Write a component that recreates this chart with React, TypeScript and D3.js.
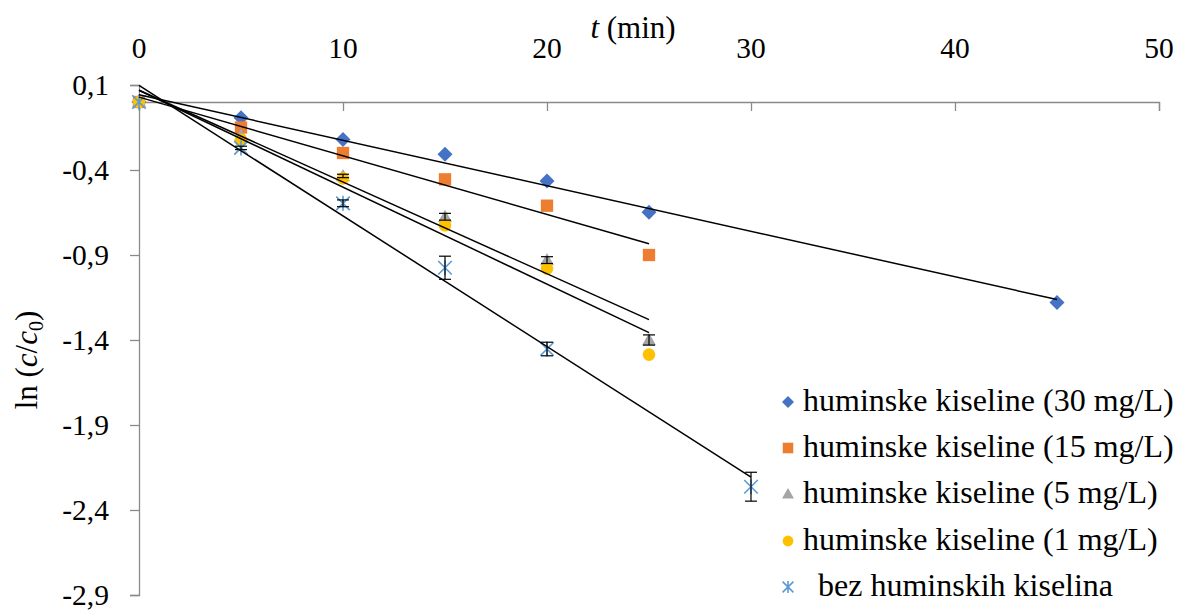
import React, { useEffect, useRef } from "react";
import * as d3 from "d3";

const xTicks = [0, 10, 20, 30, 40, 50];
const yTicks = [0.1, -0.4, -0.9, -1.4, -1.9, -2.4, -2.9];

const time30 = [0, 5, 10, 15, 20, 25, 45];
const val30 = [0, -0.092, -0.22, -0.308, -0.465, -0.649, -1.18];
const err30 = [0, 0, 0, 0, 0, 0, 0];

const time15 = [0, 5, 10, 15, 20, 25];
const val15 = [0, -0.15, -0.3, -0.455, -0.61, -0.9];
const err15 = [0, 0, 0, 0, 0, 0];

const time5 = [0, 5, 10, 15, 20, 25];
const val5 = [0, -0.195, -0.435, -0.675, -0.93, -1.4];
const err5 = [0, 0, 0.01, 0.02, 0.02, 0.03];

const time1 = [0, 5, 10, 15, 20, 25];
const val1 = [0, -0.222, -0.449, -0.725, -0.98, -1.486];
const err1 = [0, 0, 0, 0, 0, 0];

const timeBez = [0, 5, 10, 15, 20, 30];
const valBez = [0, -0.27, -0.596, -0.975, -1.453, -2.263];
const errBez = [0, 0.01, 0.02, 0.068, 0.04, 0.085];

const seriesNames = [
  "huminske kiseline (30 mg/L)",
  "huminske kiseline (15 mg/L)",
  "huminske kiseline (5 mg/L)",
  "huminske kiseline (1 mg/L)",
  "bez huminskih kiselina",
];
const seriesColors = ["#4472C4", "#ED7D31", "#A5A5A5", "#FFC000", "#5B9BD5"];
const seriesShapes = ["diamond", "square", "triangle", "circle", "star"];

const FONT = "Liberation Serif";

function regression(xs: number[], ys: number[]) {
  const mx = d3.mean(xs) as number;
  const my = d3.mean(ys) as number;
  let num = 0, den = 0;
  xs.forEach((x, i) => {
    num += (x - mx) * (ys[i] - my);
    den += (x - mx) * (x - mx);
  });
  const slope = num / den;
  return { slope, intercept: my - slope * mx };
}

function drawMarker(g: any, shape: string, cx: number, cy: number, size: number, color: string) {
  const h = size / 2;
  if (shape === "diamond") {
    g.append("path")
      .attr("d", `M${cx},${cy - h}L${cx + h},${cy}L${cx},${cy + h}L${cx - h},${cy}Z`)
      .attr("fill", color);
  } else if (shape === "square") {
    const s = size * 0.88;
    g.append("rect").attr("x", cx - s / 2).attr("y", cy - s / 2).attr("width", s).attr("height", s).attr("fill", color);
  } else if (shape === "triangle") {
    g.append("path")
      .attr("d", `M${cx},${cy - h}L${cx + h},${cy + h * 0.75}L${cx - h},${cy + h * 0.75}Z`)
      .attr("fill", color);
  } else if (shape === "circle") {
    g.append("circle").attr("cx", cx).attr("cy", cy).attr("r", h * 0.9).attr("fill", color);
  } else {
    const d = h * 0.9;
    g.append("path")
      .attr("d", `M${cx - d},${cy - d}L${cx + d},${cy + d}M${cx - d},${cy + d}L${cx + d},${cy - d}M${cx},${cy - h}L${cx},${cy + h}`)
      .attr("stroke", color)
      .attr("stroke-width", 1.6)
      .attr("fill", "none");
  }
}

export default function App() {
  const ref = useRef<SVGSVGElement>(null);

  useEffect(() => {
    document.body.style.margin = "0";
    const svg = d3.select(ref.current);
    svg.selectAll("*").remove();

    const x = d3.scaleLinear().domain([0, 50]).range([139, 1159]);
    const y = d3.scaleLinear().domain([-2.9, 0.1]).range([595, 85]);
    const axisColor = "#8a8a8a";

    // y axis
    const yAxis = svg.append("g").attr("transform", `translate(${x(0)},0)`)
      .call(d3.axisLeft(y).tickValues(yTicks).tickSize(9).tickPadding(21)
        .tickFormat((d: any) => d3.format(".1f")(d).replace(".", ",").replace("−", "-")));
    yAxis.select(".domain").attr("stroke", axisColor).attr("stroke-width", 1.3);
    yAxis.selectAll(".tick line").attr("stroke", axisColor).attr("stroke-width", 1.3);
    yAxis.selectAll(".tick text").style("font-family", FONT).style("font-size", "29.5px").attr("fill", "#000");

    // x axis (at y = 0), ticks pointing down, labels on top
    const xAxis = svg.append("g").attr("transform", `translate(0,${y(0)})`)
      .call(d3.axisBottom(x).tickValues(xTicks).tickSize(9).tickSizeOuter(9).tickFormat(() => ""));
    xAxis.select(".domain").attr("stroke", axisColor).attr("stroke-width", 1.3);
    xAxis.selectAll(".tick line").attr("stroke", axisColor).attr("stroke-width", 1.3);
    svg.append("g").selectAll("text").data(xTicks).join("text")
      .attr("x", (d) => x(d)).attr("y", 58).attr("text-anchor", "middle")
      .style("font-family", FONT).style("font-size", "29.5px").attr("fill", "#000").text((d) => String(d));

    // axis titles
    const xt = svg.append("text").attr("x", 633).attr("y", 38).attr("text-anchor", "middle")
      .style("font-family", FONT).style("font-size", "31px").attr("fill", "#000");
    xt.append("tspan").style("font-style", "italic").text("t");
    xt.append("tspan").text(" (min)");

    const yt = svg.append("text").attr("transform", "translate(37,360) rotate(-90)").attr("text-anchor", "middle")
      .style("font-family", FONT).style("font-size", "31px").attr("fill", "#000");
    yt.append("tspan").text("ln (");
    yt.append("tspan").style("font-style", "italic").text("c");
    yt.append("tspan").text("/");
    yt.append("tspan").style("font-style", "italic").text("c");
    yt.append("tspan").style("font-size", "20px").attr("dy", 6).text("0");
    yt.append("tspan").attr("dy", -6).text(")");

    const all = [
      { t: time30, v: val30, e: err30 },
      { t: time15, v: val15, e: err15 },
      { t: time5, v: val5, e: err5 },
      { t: time1, v: val1, e: err1 },
      { t: timeBez, v: valBez, e: errBez },
    ];

    // markers
    const mg = svg.append("g");
    all.forEach((s, i) => {
      const size = [15, 14, 14, 14, 15][i];
      s.t.forEach((t, j) => drawMarker(mg, seriesShapes[i], x(t), y(s.v[j]), size, seriesColors[i]));
    });

    // error bars
    const eg = svg.append("g").attr("stroke", "#000").attr("stroke-width", 1.2);
    all.forEach((s) => {
      s.t.forEach((t, j) => {
        const e = s.e[j];
        if (!e) return;
        const cx = x(t), y1 = y(s.v[j] + e), y2 = y(s.v[j] - e);
        eg.append("line").attr("x1", cx).attr("x2", cx).attr("y1", y1).attr("y2", y2);
        eg.append("line").attr("x1", cx - 6).attr("x2", cx + 6).attr("y1", y1).attr("y2", y1);
        eg.append("line").attr("x1", cx - 6).attr("x2", cx + 6).attr("y1", y2).attr("y2", y2);
      });
    });

    // trend lines
    const tg = svg.append("g");
    all.forEach((s) => {
      const r = regression(s.t, s.v);
      const t0 = 0, t1 = d3.max(s.t) as number;
      tg.append("line")
        .attr("x1", x(t0)).attr("y1", y(r.intercept + r.slope * t0))
        .attr("x2", x(t1)).attr("y2", y(r.intercept + r.slope * t1))
        .attr("stroke", "#000").attr("stroke-width", 1.5);
    });

    // legend
    const lg = svg.append("g");
    const rowY = [402, 448, 494, 541, 587];
    seriesNames.forEach((name, i) => {
      drawMarker(lg, seriesShapes[i], 788, rowY[i], 12, seriesColors[i]);
      lg.append("text").attr("x", i === 4 ? 818 : 803).attr("y", rowY[i] + 9)
        .style("font-family", FONT).style("font-size", "32px").attr("fill", "#000").text(name);
    });
  }, []);

  return (
    <svg ref={ref} width={1179} height={612} style={{ position: "absolute", left: 0, top: 0, background: "#fff" }} />
  );
}
